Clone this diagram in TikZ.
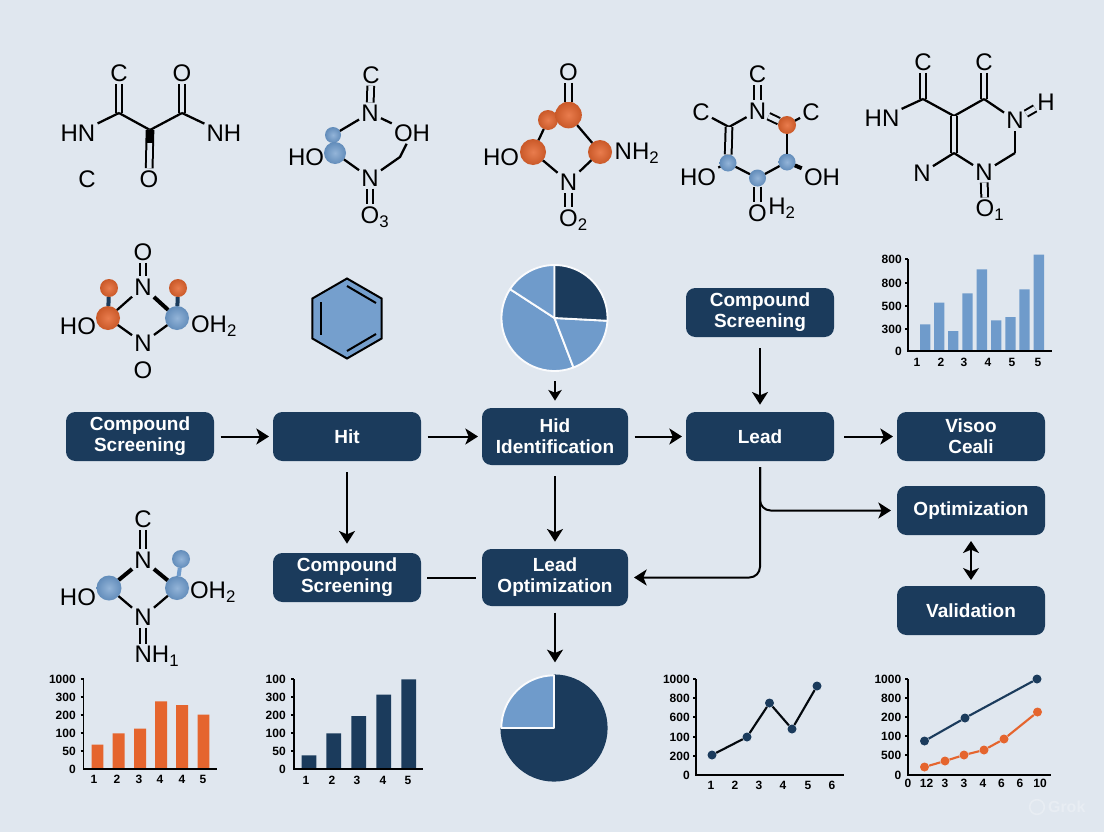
\documentclass[tikz,border=0pt]{standalone}
\usepackage{fontspec}
\setmainfont{Liberation Sans}
\usepackage{xcolor}
\usetikzlibrary{arrows.meta,positioning,shapes.geometric}
\definecolor{pagebg}{HTML}{E0E7EF}
\definecolor{navy}{HTML}{1B3B5C}
\definecolor{steel}{HTML}{6F9BCB}
\definecolor{rust}{HTML}{E5652E}
\definecolor{wmark}{HTML}{E8EDF3}

\begin{document}
\begin{tikzpicture}[
    x=0.75pt,y=-0.75pt,
    flowbox/.style={rectangle,fill=navy,text=white,rounded corners=7pt,align=center,minimum width=111pt,minimum height=36.75pt,inner sep=0pt,outer sep=0pt,font=\fontsize{14.25}{15.75}\selectfont\bfseries},
    pairbox/.style={flowbox,execute at begin node=\rule{0pt}{15pt}},
    tallbox/.style={flowbox,minimum width=109.5pt,minimum height=42.75pt},
    arrow/.style={-{Stealth[length=9.5pt,width=12pt,inset=2.5pt]},line width=1.5pt,shorten <=5pt,shorten >=3pt},
    downarrow/.style={arrow,shorten <=8.5pt,shorten >=5.5pt},
    plainlink/.style={line width=1.5pt,shorten <=4.5pt,shorten >=4.5pt},
    looparrow/.style={arrow,rounded corners=8pt,shorten <=4.5pt,shorten >=4.5pt},
    twoway/.style={{Stealth[length=9pt,width=12pt,inset=2.5pt]}-{Stealth[length=9pt,width=12pt,inset=2.5pt]},line width=1.5pt,shorten <=4.5pt,shorten >=4.5pt},
    atom/.style={inner sep=1.5pt,font=\fontsize{18}{20}\selectfont},
    bond/.style={line width=1.7pt},
    wbond/.style={line width=3pt},
    dbond/.style={line width=1.5pt,double=pagebg,double distance=3.5pt},
    ballb/.style={circle,inner sep=0pt,outer sep=0pt,minimum size=#1,inner color=steel!75!white,outer color=steel!85!navy},
    ballo/.style={circle,inner sep=0pt,outer sep=0pt,minimum size=#1,inner color=rust!85!white,outer color=rust!88!black},
    ticklabel/.style={inner sep=0pt,font=\fontsize{9}{10}\selectfont\bfseries},
    axisline/.style={line width=1.2pt},
    slice/.style={draw=white!85!pagebg,line width=1.4pt,line join=round},
    dotn/.style={circle,fill=navy,inner sep=0pt,minimum size=6.75pt},
    doto/.style={circle,fill=rust,inner sep=0pt,minimum size=6.75pt},
    seriesn/.style={draw=navy,line width=1.6pt},
    serieso/.style={draw=rust,line width=1.6pt}
]
\useasboundingbox (0,0) rectangle (1104,832);
\fill[pagebg] (0,0) rectangle (1104,832);

\node[pairbox] (screen) at (140,436.5) {Compound\\Screening};
\node[flowbox, right=44.25pt of screen] (hit) {Hit};
\node[tallbox, right=45.75pt of hit] (hid) {Hid\\Identification};
\node[flowbox, right=43.5pt of hid] (lead) {Lead};
\node[pairbox, right=47.25pt of lead] (visco) {Visoo\\Ceali};
\node[pairbox, above=56.25pt of lead] (screentop) {Compound\\Screening};
\node[pairbox, below=69pt of hit] (screenlow) {Compound\\Screening};
\node[tallbox, below=63pt of hid] (leadopt) {Lead\\Optimization};
\node[flowbox, below=18.75pt of visco] (optim) {Optimization};
\node[flowbox, below=38.25pt of optim] (valid) {Validation};

\coordinate (pieonetip) at (555,381);
\coordinate (pietwohead) at (555,665);
\draw[arrow] (screen) -- (hit);
\draw[arrow] (hit) -- (hid);
\draw[arrow] (hid) -- (lead);
\draw[arrow,shorten <=7.5pt] (lead) -- (visco);
\draw[downarrow] (screentop) -- (lead);
\draw[downarrow,shorten >=7pt] (hit) -- (screenlow);
\draw[downarrow] (hid) -- (leadopt);
\draw[plainlink] (screenlow) -- (leadopt);
\draw[looparrow] (lead.south) |- (leadopt.east);
\draw[looparrow] (lead.south) |- (optim.west);
\draw[twoway] (optim) -- (valid);
\draw[-{Stealth[length=8pt,width=10pt,inset=2pt]},line width=1.5pt,shorten >=5.5pt] (pieonetip) -- (hid);
\draw[arrow,shorten >=2pt] (leadopt) -- (pietwohead);

\node[atom] (m1c) at (119,73) {C};
\node[atom] (m1o) at (182,73) {O};
\node[atom] (m1hn) at (78,133) {HN};
\node[atom] (m1nh) at (224,133) {NH};
\node[atom] (m1c2) at (87,179) {C};
\node[atom] (m1o2) at (149,179) {O};
\coordinate (m1a) at (119,113);
\coordinate (m1b) at (182,113);
\coordinate (m1m) at (150,130);
\coordinate (m1w) at (150,143);
\draw[dbond] (m1c) -- (m1a);
\draw[dbond] (m1o) -- (m1b);
\draw[bond] (m1hn) -- (m1a);
\draw[bond] (m1a) -- (m1m);
\draw[bond] (m1m) -- (m1b);
\draw[bond] (m1b) -- (m1nh);
\draw[dbond] (m1m) -- (m1o2);
\draw[line width=4pt] (m1m) -- (m1w);

\node[atom] (m2c) at (371,75) {C};
\node[atom] (m2n) at (370,113) {N};
\node[atom] (m2oh) at (412,133) {OH};
\node[atom] (m2ho) at (306,157) {HO};
\node[atom] (m2n2) at (370,178) {N};
\node[atom] (m2o) at (370,217) {O\rlap{\textsubscript{3}}};
\node[ballb=12pt] (m2b1) at (333,135) {};
\node[ballb=16.5pt] (m2b2) at (335,153) {};
\coordinate (m2k) at (400,157);
\draw[dbond] (m2c) -- (m2n);
\draw[bond] (m2n) -- (m2b1);
\draw[bond] (m2n) -- (m2oh);
\draw[bond] (m2b2) -- (m2n2);
\draw[bond] (m2n2) -- (m2k) -- (m2oh);
\draw[dbond] (m2n2) -- (m2o);

\node[atom] (m3o) at (568.5,72) {O};
\node[ballo=15pt] (m3b2) at (548,120) {};
\node[ballo=20pt] (m3b1) at (568.5,115) {};
\node[ballo=19.5pt] (m3b3) at (533,152) {};
\node[ballo=18pt] (m3b4) at (600,152) {};
\node[atom] (m3ho) at (501,157) {HO};
\node[atom] (m3nh) at (632,153) {NH\rlap{\textsubscript{2}}};
\node[atom] (m3n) at (568.5,182) {N};
\node[atom] (m3o2) at (568.5,220) {O\rlap{\textsubscript{2}}};
\draw[dbond] (m3o) -- (m3b1);
\draw[bond] (m3b2) -- (m3b3);
\draw[bond] (m3b1) -- (m3b4);
\draw[bond] (m3b3) -- (m3n);
\draw[bond] (m3b4) -- (m3n);
\draw[dbond] (m3n) -- (m3o2);

\node[atom] (m4c) at (757.5,74) {C};
\node[atom] (m4n) at (757.5,111) {N};
\node[atom] (m4cl) at (701,112) {C};
\node[atom] (m4cr) at (811,112) {C};
\node[ballo=13.5pt] (m4b1) at (787,125) {};
\node[ballb=12.75pt] (m4b2) at (728,163) {};
\node[ballb=12.75pt] (m4b3) at (757.5,178) {};
\node[ballb=12.75pt] (m4b4) at (787,162) {};
\node[atom] (m4ho) at (698,177) {HO};
\node[atom] (m4oh) at (822,177) {OH};
\node[atom] (m4o) at (757.5,213) {O};
\node[atom] (m4h) at (777,208) {H\rlap{\textsubscript{2}}};
\coordinate (m4k) at (729,127);
\draw[dbond] (m4c) -- (m4n);
\draw[bond] (m4cl) -- (m4k);
\draw[bond] (m4k) -- (m4n);
\draw[dbond] (m4k) -- (m4b2);
\draw[bond] (m4b2) -- (m4b3);
\draw[bond] (m4b3) -- (m4b4);
\draw[bond] (m4b4) -- (m4b1);
\draw[dbond] (m4n) -- (m4b1);
\draw[bond] (m4b1) -- (m4cr);
\draw[wbond] (m4b4) -- (m4oh);
\draw[bond] (m4ho) -- (m4b2);
\draw[dbond] (m4b3) -- (m4o);

\node[atom] (m5c) at (923,62) {C};
\node[atom] (m5c2) at (984,62) {C};
\node[atom] (m5hn) at (882,118) {HN};
\node[atom] (m5n) at (1015,120) {N};
\node[atom] (m5h) at (1046,102) {H};
\node[atom] (m5n2) at (922,173) {N};
\node[atom] (m5n3) at (984,172) {N};
\node[atom] (m5o) at (985,210) {O\rlap{\textsubscript{1}}};
\coordinate (m5a) at (923,99);
\coordinate (m5b) at (954,116);
\coordinate (m5d) at (984,99);
\coordinate (m5e) at (954,153);
\coordinate (m5f) at (1015,153);
\draw[dbond] (m5c) -- (m5a);
\draw[dbond] (m5c2) -- (m5d);
\draw[bond] (m5hn) -- (m5a);
\draw[bond] (m5a) -- (m5b);
\draw[bond] (m5b) -- (m5d);
\draw[bond] (m5d) -- (m5n);
\draw[dbond] (m5n) -- (m5h);
\draw[dbond] (m5b) -- (m5e);
\draw[bond] (m5e) -- (m5n2);
\draw[bond] (m5e) -- (m5n3);
\draw[bond] (m5n3) -- (m5f);
\draw[bond] (m5f) -- (m5n);
\draw[dbond] (m5n3) -- (m5o);

\node[atom] (m6o) at (143,252) {O};
\node[atom] (m6n) at (143,287) {N};
\node[atom] (m6n2) at (143,343) {N};
\node[atom] (m6o2) at (143,370) {O};
\node[atom] (m6ho) at (78,326) {HO};
\node[atom] (m6oh) at (209,326) {OH\rlap{\textsubscript{2}}};
\node[ballo=13.5pt] (m6b1) at (109,288) {};
\node[ballo=18pt] (m6b2) at (108,318) {};
\node[ballo=13.5pt] (m6b3) at (178,288) {};
\node[ballb=18pt] (m6b4) at (177,318) {};
\draw[dbond] (m6o) -- (m6n);
\draw[bond] (m6n) -- (m6b2);
\draw[wbond] (m6n) -- (m6b4);
\draw[bond] (m6b2) -- (m6n2);
\draw[bond] (m6b4) -- (m6n2);
\draw[wbond,navy] (m6b1) -- (m6b2);
\draw[wbond,navy] (m6b3) -- (m6b4);

\node[atom] (m7c) at (143,519) {C};
\node[atom] (m7n) at (143,560) {N};
\node[atom] (m7n2) at (143,617) {N};
\node[atom] (m7nh) at (152,656) {NH\rlap{\textsubscript{1}}};
\node[atom] (m7ho) at (78,597) {HO};
\node[atom] (m7oh) at (208,592) {OH\rlap{\textsubscript{2}}};
\node[ballb=18.75pt] (m7b1) at (109,588) {};
\node[ballb=18pt] (m7b2) at (177,588) {};
\node[ballb=13.5pt] (m7b3) at (181,559) {};
\draw[dbond] (m7c) -- (m7n);
\draw[wbond] (m7n) -- (m7b1);
\draw[wbond] (m7n) -- (m7b2);
\draw[bond] (m7b1) -- (m7n2);
\draw[bond] (m7b2) -- (m7n2);
\draw[line width=3pt,steel] (m7b3) -- (m7b2);
\draw[dbond] (m7n2) -- (m7nh.north -| m7n2);

\node[regular polygon,regular polygon sides=6,regular polygon rotate=30,draw,fill=steel!95!pagebg,line width=1.5pt,minimum size=60pt,inner sep=0pt] (ring) at (347,318.5) {};
\draw[line width=1.5pt] (321,302) -- (321,335);
\draw[line width=1.5pt] (347,286) -- (376,303);
\draw[line width=1.5pt] (347,351) -- (376,334);

\coordinate (pieone) at (554.5,318);
\fill[slice,fill=steel] (pieone) -- ++(-69:39.75pt) arc[start angle=-69,end angle=-213,radius=39.75pt] -- cycle;
\fill[slice,fill=steel] (pieone) -- ++(147:39.75pt) arc[start angle=147,end angle=90,radius=39.75pt] -- cycle;
\fill[slice,fill=steel] (pieone) -- ++(-3:39.75pt) arc[start angle=-3,end angle=-69,radius=39.75pt] -- cycle;
\fill[slice,fill=navy] (pieone) -- ++(90:39.75pt) arc[start angle=90,end angle=-3,radius=39.75pt] -- cycle;

\coordinate (pietwo) at (554,728);
\fill[slice,fill=navy,draw=navy] (pietwo) -- ++(90:39.5pt) arc[start angle=90,end angle=-180,radius=39.5pt] -- cycle;
\fill[slice,fill=steel] (pietwo) -- ++(180:39.5pt) arc[start angle=180,end angle=90,radius=39.5pt] -- cycle;

\fill[steel]
  (920,324.3) rectangle (930.3,351) (934,302.7) rectangle (944.3,351)
  (948,331) rectangle (958.3,351) (962.3,293.3) rectangle (972.7,351)
  (976.7,269.3) rectangle (987,351) (991,320.3) rectangle (1001.3,351)
  (1005.3,317) rectangle (1015.7,351) (1019.3,289.3) rectangle (1029.7,351)
  (1033.7,254.7) rectangle (1044,351);
\draw[axisline] (908,259) -- (908,351) -- (1052,351);
\draw[axisline] (905,259) -- (908,259) (905,283) -- (908,283) (905,306) -- (908,306) (905,329) -- (908,329);
\node[ticklabel,anchor=east] (ca1) at (902,259) {800};
\node[ticklabel,anchor=east] (ca2) at (902,283) {800};
\node[ticklabel,anchor=east] (ca3) at (902,306) {500};
\node[ticklabel,anchor=east] (ca4) at (902,329) {300};
\node[ticklabel,anchor=east] (ca5) at (902,351) {0};
\node[ticklabel] (cb1) at (917,362) {1};
\node[ticklabel] (cb2) at (941,362) {2};
\node[ticklabel] (cb3) at (964,362) {3};
\node[ticklabel] (cb4) at (988,362) {4};
\node[ticklabel] (cb5) at (1012,362) {5};
\node[ticklabel] (cb6) at (1038,362) {5};

\fill[rust]
  (91.7,744.7) rectangle (103.3,769) (112.7,733.3) rectangle (124.7,769)
  (134,728.7) rectangle (146,769) (155,701.3) rectangle (167,769)
  (176,705) rectangle (188,769) (197.7,714.7) rectangle (209.3,769);
\draw[axisline] (83.5,679) -- (83.5,769) -- (217,769);
\draw[axisline] (80.5,679) -- (83.5,679) (80.5,697) -- (83.5,697) (80.5,715) -- (83.5,715) (80.5,733) -- (83.5,733) (80.5,751) -- (83.5,751);
\node[ticklabel,anchor=east] (da1) at (76,679) {1000};
\node[ticklabel,anchor=east] (da2) at (76,697) {300};
\node[ticklabel,anchor=east] (da3) at (76,715) {200};
\node[ticklabel,anchor=east] (da4) at (76,733) {100};
\node[ticklabel,anchor=east] (da5) at (76,751) {50};
\node[ticklabel,anchor=east] (da6) at (76,769) {0};
\node[ticklabel] (db1) at (94,779) {1};
\node[ticklabel] (db2) at (117,779) {2};
\node[ticklabel] (db3) at (139,779) {3};
\node[ticklabel] (db4) at (160,779) {4};
\node[ticklabel] (db5) at (182,779) {4};
\node[ticklabel] (db6) at (203,779) {5};

\fill[navy]
  (301.7,755.3) rectangle (316.3,769) (326.3,733.3) rectangle (341,769)
  (351.3,716) rectangle (366,769) (376.3,694.7) rectangle (391,769)
  (401.3,679.3) rectangle (416,769);
\draw[axisline] (294,679) -- (294,769) -- (423,769);
\draw[axisline] (291,679) -- (294,679) (291,697) -- (294,697) (291,715) -- (294,715) (291,733) -- (294,733) (291,751) -- (294,751);
\node[ticklabel,anchor=east] (ea1) at (286,679) {100};
\node[ticklabel,anchor=east] (ea2) at (286,697) {300};
\node[ticklabel,anchor=east] (ea3) at (286,715) {200};
\node[ticklabel,anchor=east] (ea4) at (286,733) {100};
\node[ticklabel,anchor=east] (ea5) at (286,751) {50};
\node[ticklabel,anchor=east] (ea6) at (286,769) {0};
\node[ticklabel] (eb1) at (306,780) {1};
\node[ticklabel] (eb2) at (332,780) {2};
\node[ticklabel] (eb3) at (357,780) {3};
\node[ticklabel] (eb4) at (383,780) {4};
\node[ticklabel] (eb5) at (408,780) {5};

\draw[axisline] (696,679) -- (696,775) -- (843.5,775);
\draw[axisline] (693,679) -- (696,679) (693,698) -- (696,698) (693,717) -- (696,717) (693,737) -- (696,737) (693,756) -- (696,756);
\node[ticklabel,anchor=east] (fa1) at (690,679) {1000};
\node[ticklabel,anchor=east] (fa2) at (690,698) {800};
\node[ticklabel,anchor=east] (fa3) at (690,717) {600};
\node[ticklabel,anchor=east] (fa4) at (690,737) {100};
\node[ticklabel,anchor=east] (fa5) at (690,756) {200};
\node[ticklabel,anchor=east] (fa6) at (690,775) {0};
\node[ticklabel] (fb1) at (711,785) {1};
\node[ticklabel] (fb2) at (735,785) {2};
\node[ticklabel] (fb3) at (759,785) {3};
\node[ticklabel] (fb4) at (783,785) {4};
\node[ticklabel] (fb5) at (808,785) {5};
\node[ticklabel] (fb6) at (832,785) {6};
\node[dotn] (fp1) at (712,755) {};
\node[dotn] (fp2) at (747,737) {};
\node[dotn] (fp3) at (769.5,703) {};
\node[dotn] (fp4) at (792,729) {};
\node[dotn] (fp5) at (817,686) {};
\draw[seriesn,draw=black!85!navy] (fp1) -- (fp2) -- (fp3) -- (fp4) -- (fp5);

\draw[axisline] (908,679) -- (908,775) -- (1051,775);
\draw[axisline] (905,679) -- (908,679) (905,698) -- (908,698) (905,717) -- (908,717) (905,736) -- (908,736) (905,755) -- (908,755);
\node[ticklabel,anchor=east] (ga1) at (901.5,679) {1000};
\node[ticklabel,anchor=east] (ga2) at (901.5,698) {800};
\node[ticklabel,anchor=east] (ga3) at (901.5,717) {200};
\node[ticklabel,anchor=east] (ga4) at (901.5,736) {100};
\node[ticklabel,anchor=east] (ga5) at (901.5,755) {500};
\node[ticklabel,anchor=east] (ga6) at (901.5,775) {0};
\node[ticklabel] (gb1) at (908,783) {0};
\node[ticklabel] (gb2) at (926.5,783) {12};
\node[ticklabel] (gb3) at (945,783) {3};
\node[ticklabel] (gb4) at (964,783) {3};
\node[ticklabel] (gb5) at (983,783) {4};
\node[ticklabel] (gb6) at (1001.5,783) {6};
\node[ticklabel] (gb7) at (1020,783) {6};
\node[ticklabel] (gb8) at (1040,783) {10};
\node[dotn] (gn1) at (924.5,741) {};
\node[dotn] (gn2) at (965,718) {};
\node[dotn] (gn3) at (1037,679) {};
\draw[seriesn] (gn1) -- (gn2) -- (gn3);
\node[doto] (go1) at (924.5,767) {};
\node[doto] (go2) at (945,761) {};
\node[doto] (go3) at (964,755) {};
\node[doto] (go4) at (984,750) {};
\node[doto] (go5) at (1004,739) {};
\node[doto] (go6) at (1037.5,712) {};
\draw[serieso] (go1) -- (go2) -- (go3) -- (go4) -- (go5) -- (go6);

\node[circle,draw=wmark,line width=1.2pt,minimum size=11pt,inner sep=0pt] (wicon) at (1037,807) {};
\node[text=wmark,font=\fontsize{12}{14}\selectfont\bfseries,right=2pt of wicon,inner sep=0pt] (wtext) {Grok};
\end{tikzpicture}
\end{document}
